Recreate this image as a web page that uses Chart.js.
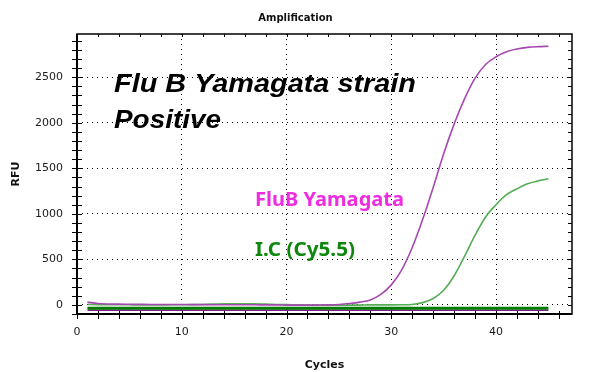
<!DOCTYPE html>
<html>
<head>
<meta charset="utf-8">
<title>Amplification</title>
<script src="https://cdn.jsdelivr.net/npm/chart.js"></script>
<style>
	html, body { margin: 0; padding: 0; background: #fff; }
	#contenedor { width: 591px; height: 372px; }
</style>
</head>
<body>
<div id="contenedor"><canvas id="myChart" width="591" height="372"></canvas></div>
<script>
const ciclos = [1, 2, 3, 4, 5, 6, 7, 8, 9, 10, 11, 12, 13, 14, 15, 16, 17, 18, 19, 20, 21, 22, 23,
	24, 25, 26, 27, 28, 29, 30, 31, 32, 33, 34, 35, 36, 37, 38, 39, 40, 41, 42, 43, 44, 45];
const fluB = [30, 15, 10, 8, 7, 6, 5, 5, 4, 4, 3, 3, 2, 2, 2, 1, 1, 0, 0, -2, -3, -3, -2,
	0, 5, 15, 30, 55, 115, 220, 385, 630, 940, 1290, 1660, 1985, 2265, 2490, 2640, 2725, 2780, 2810, 2828, 2836, 2840];
const controlInterno = [5, 3, 2, 2, 1, 0, 0, 0, 1, 2, 3, 5, 8, 12, 12, 13, 12, 8, 5, 3, 0, -2, -3,
	-4, -4, -3, -2, 0, 0, 0, 1, 5, 25, 70, 160, 320, 535, 765, 965, 1100, 1210, 1275, 1330, 1362, 1385];
const ciclosBase = [1, 45];
const baseVerde = [-38, -38];
const baseMorada = [-58, -58];
const ticksX = [0, 10, 20, 30, 40];
const ticksY = [0, 500, 1000, 1500, 2000, 2500];

(function () {

	const ctx = document.getElementById('myChart');
	const puntos = (xs, ys) => xs.map((x, i) => ({ x: x, y: ys[i] }));

	// marco, marcas menores y rotulos sobre el grafico
	const marco = {
		id: 'marco',
		afterDatasetsDraw(chart) {
			const { ctx: c, chartArea: a, scales: { x, y } } = chart;
			c.save();
			c.strokeStyle = '#000';
			c.lineWidth = 1;
			c.beginPath();
			for (let v = 0; v <= 46; v += 2) {
				const px = Math.round(x.getPixelForValue(v)) + 0.5;
				c.moveTo(px, a.bottom - 3); c.lineTo(px, a.bottom + 5);
				c.moveTo(px, a.top); c.lineTo(px, a.top + 3);
			}
			for (let v = -100; v <= 2900; v += 100) {
				const py = Math.round(y.getPixelForValue(v)) + 0.5;
				c.moveTo(a.left - 5, py); c.lineTo(a.left + 5, py);
				c.moveTo(a.right - 4, py); c.lineTo(a.right, py);
			}
			c.stroke();
			c.lineWidth = 1.5;
			c.strokeRect(a.left, a.top, a.right - a.left, a.bottom - a.top);
			c.lineWidth = 2;
			c.beginPath();
			c.moveTo(a.left, a.top); c.lineTo(a.left, a.bottom); c.lineTo(a.right, a.bottom);
			c.stroke();

			const escribir = (texto, px, py, fuente, color, ancho) => {
				c.save();
				c.font = fuente;
				c.fillStyle = color;
				c.textBaseline = 'alphabetic';
				c.translate(px, py);
				c.scale(ancho / c.measureText(texto).width, 1);
				c.fillText(texto, 0, 0);
				c.restore();
			};
			escribir('Flu B Yamagata strain', 114, 92, 'italic bold 25px "Liberation Sans"', '#000', 302);
			escribir('Positive', 114, 128, 'italic bold 25px "Liberation Sans"', '#000', 107);
			escribir('FluB Yamagata', 255, 206, 'bold 19px "Noto Sans"', '#ee2ce0', 149);
			escribir('I.C (Cy5.5)', 255, 256, 'bold 19px "Noto Sans"', '#0e870e', 100);
			c.restore();
		}
	};

	const fuenteTicks = { family: 'DejaVu Sans', size: 11 };

	new Chart(ctx, {
		type: 'line',
		data: {
			datasets: [
				{
					data: puntos(ciclosBase, baseVerde),
					borderColor: '#007d00',
					borderWidth: 3,
					pointRadius: 0
				},
				{
					data: puntos(ciclosBase, baseMorada),
					borderColor: '#7d1f88',
					borderWidth: 1.5,
					pointRadius: 0
				},
				{
					label: 'FluB Yamagata',
					data: puntos(ciclos, fluB),
					borderColor: '#a648b2',
					borderWidth: 1.6,
					pointRadius: 0,
					cubicInterpolationMode: 'monotone'
				},
				{
					label: 'I.C (Cy5.5)',
					data: puntos(ciclos, controlInterno),
					borderColor: '#55ad55',
					borderWidth: 1.6,
					pointRadius: 0,
					cubicInterpolationMode: 'monotone'
				}
			]
		},
		options: {
			responsive: false,
			animation: false,
			devicePixelRatio: 1,
			layout: { padding: 0 },
			plugins: {
				legend: { display: false },
				tooltip: { enabled: false },
				title: {
					display: true,
					text: 'Amplification',
					color: '#111',
					font: { family: 'DejaVu Sans', size: 10, weight: 'bold' },
					padding: { top: 12, bottom: 10 }
				}
			},
			scales: {
				x: {
					type: 'linear',
					min: 0,
					max: 47.25,
					afterBuildTicks: s => { s.ticks = ticksX.map(v => ({ value: v })); },
					afterFit: s => { s.height = 58; },
					grid: { color: '#000', lineWidth: 1, drawTicks: false },
					border: { display: false, dash: [1, 4] },
					ticks: { color: '#1a1a1a', font: fuenteTicks, padding: 12, maxRotation: 0, callback: v => String(v) },
					title: {
						display: true,
						text: 'Cycles',
						color: '#111',
						font: { family: 'DejaVu Sans', size: 11, weight: 'bold' },
						padding: { top: 11, bottom: 0 }
					}
				},
				y: {
					min: -100,
					max: 2975,
					afterBuildTicks: s => { s.ticks = ticksY.map(v => ({ value: v })); },
					afterFit: s => { s.width = 77; },
					grid: { color: '#000', lineWidth: 1, drawTicks: false },
					border: { display: false, dash: [1, 4] },
					ticks: { color: '#1a1a1a', font: fuenteTicks, padding: 14, callback: v => String(v) },
					title: {
						display: true,
						text: 'RFU',
						color: '#111',
						font: { family: 'DejaVu Sans', size: 11, weight: 'bold' },
						padding: { top: 10, bottom: 0 }
					}
				},
				y2: {
					position: 'right',
					min: 0,
					max: 1,
					ticks: { display: false },
					grid: { display: false },
					border: { display: false },
					afterFit: s => { s.width = 19; }
				}
			}
		},
		plugins: [marco]
	});

})();
</script>
</body>
</html>
